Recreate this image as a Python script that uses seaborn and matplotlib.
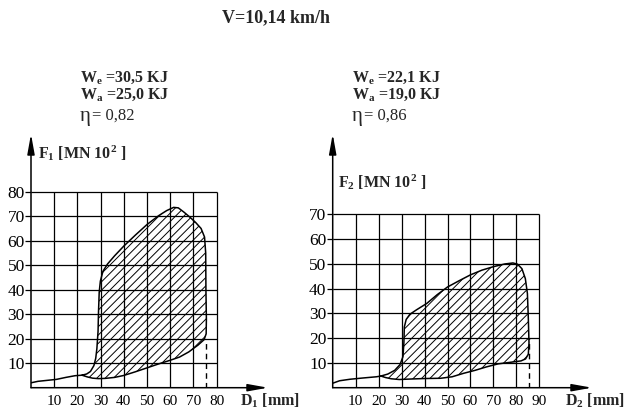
import matplotlib
matplotlib.use("Agg")
import matplotlib.pyplot as plt
import numpy as np
import pandas as pd
import seaborn as sns

# ---------------- data ----------------
title = "V=10,14 km/h"

left_xticks = [10, 20, 30, 40, 50, 60, 70, 80]
left_yticks = [10, 20, 30, 40, 50, 60, 70, 80]
right_xticks = [10, 20, 30, 40, 50, 60, 70, 80, 90]
right_yticks = [10, 20, 30, 40, 50, 60, 70]

left_lead_x = [0, 3, 7, 11, 15, 19, 22]
left_lead_y = [2.0, 2.6, 3.0, 3.4, 4.2, 4.9, 5.1]
left_loop_x = [22, 24, 25.6, 27.1, 27.9, 28.4, 28.9, 29.1, 29.4, 29.9, 31.0, 33.0,
               36.0, 40.0, 45.0, 50.0, 55.0, 58.5, 61.5, 63.5, 66.0, 68.5, 71.0,
               73.3, 74.8, 75.3, 75.4, 75.6, 75.5, 74.6, 72.0, 68.0, 64.0, 60.0,
               55.0, 50.0, 45.0, 40.0, 36.0, 32.0, 29.0, 26.5, 24.3, 22]
left_loop_y = [5.1, 5.6, 6.6, 9.0, 12.0, 16.0, 23.0, 31.0, 39.0, 43.5, 47.5, 50.5,
               53.8, 57.8, 62.3, 66.6, 70.2, 72.3, 73.6, 73.4, 71.6, 69.6, 67.4,
               65.0, 61.5, 55.0, 40.0, 28.0, 22.0, 19.6, 17.4, 14.6, 12.5, 11.2,
               9.7, 8.1, 6.5, 5.0, 4.2, 3.8, 3.7, 3.9, 4.4, 5.1]
left_dash_x = [75.5, 75.5]
left_dash_y = [0, 20]

right_lead_x = [0, 3, 7.5, 13, 19, 21]
right_lead_y = [1.8, 2.8, 3.4, 3.9, 4.4, 4.7]
right_loop_x = [21, 24, 27, 29.3, 30.6, 31.0, 31.2, 32.0, 33.6, 36.5, 41.0, 45.5,
                50.0, 55.0, 60.0, 65.0, 70.0, 75.0, 78.5, 80.5, 82.4, 83.9, 84.8,
                85.2, 85.5, 85.2, 84.0, 82.0, 77.0, 72.0, 67.0, 62.0, 57.0, 52.0,
                47.0, 40.0, 34.0, 29.0, 25.5, 23.0, 21]
right_loop_y = [4.7, 5.5, 7.0, 9.3, 12.5, 18.0, 24.5, 27.5, 29.6, 31.4, 34.0, 37.5,
                40.6, 43.1, 45.5, 47.4, 48.8, 49.9, 50.3, 49.8, 48.0, 44.0, 38.0,
                28.0, 18.0, 13.5, 11.6, 10.8, 10.2, 9.6, 8.4, 7.0, 5.8, 4.4,
                3.8, 3.7, 3.5, 3.3, 3.6, 4.1, 4.7]
right_dash_x = [85.5, 85.5]
right_dash_y = [0, 20]

left_notes = ["W$_\\mathbf{e}$ =30,5 KJ", "W$_\\mathbf{a}$ =25,0 KJ", "0,82"]
right_notes = ["W$_\\mathbf{e}$ =22,1 KJ", "W$_\\mathbf{a}$ =19,0 KJ", "0,86"]
left_ylabel = "F$_\\mathbf{1}$ [MN 10$^\\mathbf{2}$ ]"
right_ylabel = "F$_\\mathbf{2}$ [MN 10$^\\mathbf{2}$ ]"
left_xlabel = "D$_\\mathbf{1}$ [mm]"
right_xlabel = "D$_\\mathbf{2}$ [mm]"

# ---------------- style ----------------
sns.set_theme(style="white")
plt.rcParams["font.family"] = ["Liberation Serif", "DejaVu Serif"]
plt.rcParams["mathtext.fontset"] = "custom"
plt.rcParams["mathtext.rm"] = "Liberation Serif"
plt.rcParams["mathtext.it"] = "Liberation Serif:italic"
plt.rcParams["mathtext.bf"] = "Liberation Serif:bold"
plt.rcParams["hatch.linewidth"] = 0.7
plt.rcParams["hatch.color"] = "black"

W, H = 624, 411
fig = plt.figure(figsize=(W / 100, H / 100), dpi=100)
fig.patch.set_facecolor("white")


def px(x, y):
    return x / W, 1 - y / H


def make_axes(left, right, bottom, top, xunit, yunit):
    ax = fig.add_axes([left / W, (H - bottom) / H, (right - left) / W, (bottom - top) / H])
    ax.set_xlim(0, (right - left) / xunit * 10)
    ax.set_ylim(0, (bottom - top) / yunit * 10)
    ax.set_facecolor("none")
    for s in ax.spines.values():
        s.set_visible(False)
    return ax


def draw_panel(ax, xticks, yticks, lead_x, lead_y, loop_x, loop_y, dash_x, dash_y):
    xmax, ymax = xticks[-1], yticks[-1]
    ax.hlines(yticks, 0, xmax, color="black", lw=0.9, zorder=1)
    ax.vlines(xticks, 0, ymax, color="black", lw=0.9, zorder=1)
    ax.fill(loop_x, loop_y, facecolor="none", edgecolor="black", hatch="////", lw=0, zorder=2)
    sns.lineplot(x=lead_x, y=lead_y, sort=False, estimator=None, color="black", lw=1.1, ax=ax, zorder=3)
    sns.lineplot(x=loop_x, y=loop_y, sort=False, estimator=None, color="black", lw=1.1, ax=ax, zorder=3)
    sns.lineplot(x=dash_x, y=dash_y, sort=False, estimator=None, color="black", lw=1.0,
                 ax=ax, zorder=3, linestyle=(0, (4, 3)))
    # axes with arrows
    ax.annotate("", xy=(1, 0), xytext=(0, 0), xycoords="axes fraction",
                arrowprops=dict(arrowstyle="-|>,head_length=1.0,head_width=0.18",
                                color="black", lw=1.1, shrinkA=0, shrinkB=0), zorder=4)
    ax.annotate("", xy=(0, 1), xytext=(0, 0), xycoords="axes fraction",
                arrowprops=dict(arrowstyle="-|>,head_length=1.0,head_width=0.18",
                                color="black", lw=1.1, shrinkA=0, shrinkB=0), zorder=4)
    ax.set_xticks(xticks)
    ax.set_xticklabels([str(t) for t in xticks])
    ax.set_yticks(yticks)
    ax.set_yticklabels([str(t) for t in yticks])
    ax.tick_params(axis="x", length=0, pad=5, labelsize=11, colors="black")
    ax.tick_params(axis="y", length=4, width=0.9, pad=0.5, labelsize=12.5, colors="black", left=True)
    ax.set_xlabel("")
    ax.set_ylabel("")


axL = make_axes(31, 268, 387.7, 134, 23.2, 24.5)
draw_panel(axL, left_xticks, left_yticks, left_lead_x, left_lead_y,
           left_loop_x, left_loop_y, left_dash_x, left_dash_y)
axR = make_axes(332.7, 592, 387.7, 134, 22.96, 24.8)
draw_panel(axR, right_xticks, right_yticks, right_lead_x, right_lead_y,
           right_loop_x, right_loop_y, right_dash_x, right_dash_y)

# ---------------- texts ----------------
fig.text(*px(222, 18), title, ha="left", va="center", fontsize=13, fontweight="bold")


def notes(x0, lines):
    fig.text(*px(x0, 78), lines[0], ha="left", va="center", fontsize=11.5, fontweight="bold")
    fig.text(*px(x0, 95), lines[1], ha="left", va="center", fontsize=11.5, fontweight="bold")
    fig.text(*px(x0, 116), "\u03b7", ha="left", va="center", fontsize=15)
    fig.text(*px(x0 + 12, 116), "= " + lines[2], ha="left", va="center", fontsize=12)


notes(80, left_notes)
notes(352, right_notes)

fig.text(*px(38, 153), left_ylabel, ha="left", va="center", fontsize=11.5, fontweight="bold")
fig.text(*px(338, 182), right_ylabel, ha="left", va="center", fontsize=11.5, fontweight="bold")
fig.text(*px(240, 401), left_xlabel, ha="left", va="center", fontsize=11.5, fontweight="bold")
fig.text(*px(565, 401), right_xlabel, ha="left", va="center", fontsize=11.5, fontweight="bold")

fig.savefig("out.png", dpi=100, facecolor="white")
